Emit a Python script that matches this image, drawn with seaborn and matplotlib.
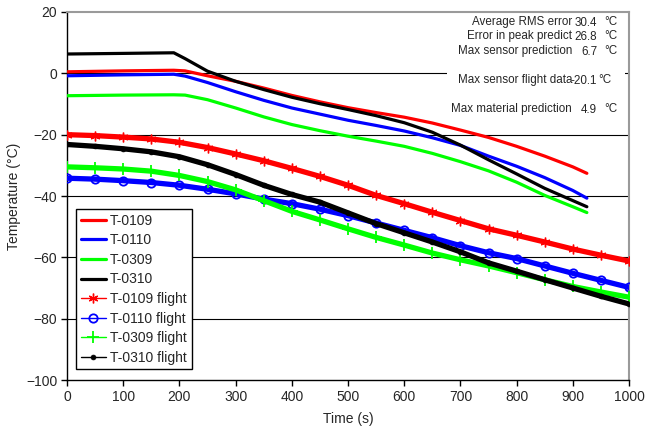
import matplotlib
matplotlib.use("Agg")
import matplotlib.pyplot as plt
from matplotlib.lines import Line2D
from matplotlib.patches import Rectangle
import numpy as np
import pandas as pd
import seaborn as sns

# ---- model predictions (solid lines) ----
model_time = [0, 100, 190, 210, 250, 300, 350, 400, 450, 500, 550, 600,
              650, 700, 750, 800, 850, 900, 925]
t0109 = [0.5, 0.8, 1.0, 0.8, -0.8, -2.6, -4.8, -7.2, -9.3, -11.2, -12.8, -14.3,
         -16.2, -18.5, -20.9, -23.8, -27.0, -30.5, -32.6]
t0110 = [-0.8, -0.5, -0.3, -0.9, -3.0, -6.0, -8.8, -11.3, -13.3, -15.3, -17.0, -18.8,
         -21.0, -23.5, -27.0, -30.3, -34.0, -38.2, -40.7]
t0309 = [-7.3, -7.1, -7.0, -7.1, -8.6, -11.3, -14.2, -16.7, -18.7, -20.5, -22.1, -23.8,
         -26.1, -28.8, -31.8, -35.5, -39.8, -43.5, -45.4]
t0310 = [6.3, 6.5, 6.7, 4.8, 0.7, -2.6, -5.3, -7.8, -9.9, -11.8, -13.8, -16.1,
         -19.2, -23.4, -28.2, -32.8, -37.5, -41.5, -43.5]

# ---- flight measurements (marked lines) ----
flight_time = [0, 50, 100, 150, 200, 250, 300, 350, 400, 450, 500,
               550, 600, 650, 700, 750, 800, 850, 900, 950, 1000]
f0109 = [-20.0, -20.3, -20.8, -21.4, -22.5, -24.2, -26.3, -28.5, -31.0, -33.6, -36.5,
         -39.8, -42.5, -45.3, -48.0, -50.7, -52.8, -55.0, -57.3, -59.3, -61.2]
f0110 = [-34.2, -34.5, -35.0, -35.6, -36.5, -37.8, -39.3, -41.0, -42.5, -44.3, -46.4,
         -48.8, -51.2, -53.6, -56.2, -58.5, -60.4, -62.8, -65.2, -67.5, -69.8]
f0309 = [-30.5, -30.8, -31.2, -31.9, -33.3, -35.3, -38.0, -41.5, -45.0, -47.8, -50.7,
         -53.5, -56.0, -58.6, -60.8, -62.8, -65.0, -67.3, -69.5, -71.3, -73.0]
f0310 = [-23.2, -23.8, -24.6, -25.6, -27.2, -29.8, -33.0, -36.5, -39.5, -42.0, -45.5,
         -49.0, -52.0, -55.0, -58.2, -61.8, -64.5, -67.3, -70.0, -72.7, -75.2]

sensor_names = ["T-0109", "T-0110", "T-0309", "T-0310"]
sensor_colors = ["#FF0000", "#0000FF", "#00FF00", "#000000"]

# ---- summary statistics ----
stat_labels = ["Average RMS error", "Error in peak predict", "Max sensor prediction",
               "Max sensor flight data", "Max material prediction"]
stat_values = ["30.4", "26.8", "6.7", "-20.1", "4.9"]

y_ticks = [-100, -80, -60, -40, -20, 0, 20]
x_ticks = [0, 100, 200, 300, 400, 500, 600, 700, 800, 900, 1000]

sns.set_style("white")
plt.rcParams["font.family"] = ["Liberation Sans", "DejaVu Sans"]

fig = plt.figure(figsize=(6.47, 4.36), dpi=100)
ax = fig.add_axes([0.1036, 0.1284, 0.8686, 0.8441])

model_df = pd.DataFrame({"time": model_time, "T-0109": t0109, "T-0110": t0110,
                         "T-0309": t0309, "T-0310": t0310})
flight_df = pd.DataFrame({"time": flight_time, "T-0109": f0109, "T-0110": f0110,
                          "T-0309": f0309, "T-0310": f0310})

# horizontal grid lines
for yv in y_ticks[1:-1]:
    ax.axhline(yv, color="black", lw=0.8, zorder=1)

# white panel behind the statistics
ax.add_patch(Rectangle((676, -13.6), 317, 33.6, facecolor="white",
                       edgecolor="none", zorder=1.5))

flight_markers = [dict(marker=(6, 2, 0), markersize=7, markeredgewidth=1.0),
                  dict(marker="o", markersize=6, markerfacecolor="none", markeredgewidth=1.3),
                  dict(marker="+", markersize=8, markeredgewidth=1.3),
                  dict(marker="o", markersize=3.5, markeredgewidth=0.5)]

for name, col in zip(sensor_names, sensor_colors):
    sns.lineplot(data=model_df, x="time", y=name, color=col, lw=2.3, ax=ax,
                 sort=False, estimator=None, zorder=4)

for name, col, mk in zip(sensor_names, sensor_colors, flight_markers):
    sns.lineplot(data=flight_df, x="time", y=name, color=col, lw=3.8, ax=ax,
                 sort=False, estimator=None, zorder=3,
                 markeredgecolor=col, **mk)

ax.set_xlim(0, 1000)
ax.set_ylim(-100, 20)
ax.set_xticks(x_ticks)
ax.set_yticks(y_ticks)
ax.tick_params(axis="both", direction="out", length=4, width=1, color="black",
               labelsize=10, pad=3, left=True, bottom=True)
for side in ["left", "bottom"]:
    ax.spines[side].set_color("black")
    ax.spines[side].set_linewidth(1.0)
for side in ["top", "right"]:
    ax.spines[side].set_color("#9a9a9a")
    ax.spines[side].set_linewidth(1.5)
ax.set_xlabel("Time (s)", fontsize=10, labelpad=6)
ax.set_ylabel("Temperature (°C)", fontsize=10, labelpad=4)

# legend
handles = [Line2D([], [], color=c, lw=2.3) for c in sensor_colors]
labels = list(sensor_names)
for name, col, mk in zip(sensor_names, sensor_colors, flight_markers):
    handles.append(Line2D([], [], color=col, lw=1.0, markeredgecolor=col, **mk))
    labels.append(name + " flight")
leg = ax.legend(handles, labels, loc="upper left", bbox_to_anchor=(0.016, 0.465),
                fontsize=10, frameon=True, fancybox=False, framealpha=1,
                edgecolor="black", labelspacing=0.4, handlelength=1.8,
                handletextpad=0.3, borderpad=0.35, borderaxespad=0)
leg.get_frame().set_linewidth(1.0)
leg.set_zorder(6)

# statistics text
row_y = [22, 36, 51, 80, 109]
for lab, val, py in zip(stat_labels, stat_values, row_y):
    yy = 1 - py / 436
    fig.text(572 / 647, yy, lab, ha="right", va="center", fontsize=8.4)
    fig.text(597 / 647, yy - 0.003, val, ha="right", va="center", fontsize=8.4)
    ux = 598 if val.startswith("-") else 604
    fig.text(ux / 647, yy, "°C", ha="left", va="center", fontsize=8.4)

fig.savefig("out.png", dpi=100)
